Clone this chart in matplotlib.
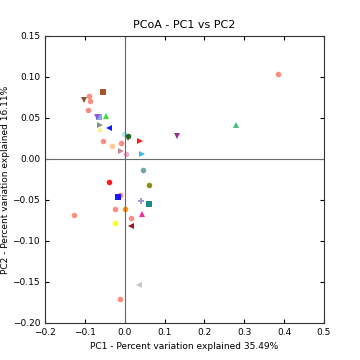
import matplotlib
matplotlib.use('Agg')
import matplotlib.pyplot as plt

# Coordenadas PCoA de cada muestra (PC1, PC2)
pc1 = [-0.055, -0.090, -0.102, -0.087, -0.092, -0.064, -0.070, -0.047,
       -0.061, -0.062, -0.039, -0.002, 0.008, 0.008, 0.038, 0.132,
       -0.055, -0.033, -0.010, -0.009, 0.002, 0.043,
       0.045, -0.040, 0.062, -0.013, -0.018, 0.040, 0.060, -0.025,
       0.001, 0.043, -0.126, 0.015,
       -0.024, 0.016, 0.037, -0.013,
       0.384, 0.279]
pc2 = [0.082, 0.077, 0.072, 0.071, 0.060, 0.051, 0.051, 0.053,
       0.042, 0.037, 0.038, 0.030, 0.028, 0.025, 0.022, 0.028,
       0.022, 0.016, 0.020, 0.010, 0.0065, 0.006,
       -0.013, -0.028, -0.032, -0.044, -0.046, -0.051, -0.055, -0.061,
       -0.061, -0.067, -0.068, -0.072,
       -0.078, -0.082, -0.154, -0.171,
       0.104, 0.042]
colores = ['#a0410d', 'salmon', '#7f3f1f', 'salmon', 'salmon', '#7b9fe0', '#8a4fd8', '#22dd22',
           'gray', '#f5f08a', 'blue', '#a6ecf0', 'darkgreen', '#2f5f1f', 'red', '#8b1a89',
           'salmon', '#ffc48a', 'salmon', '#c08090', '#f0a0c8', '#1eb0ff',
           'cadetblue', 'red', 'olive', 'salmon', 'blue', '#a08cc8', 'teal', 'salmon',
           'darkorange', 'deeppink', 'salmon', 'salmon',
           'yellow', 'darkred', 'silver', 'salmon',
           'salmon', 'mediumseagreen']
marcadores = ['s', 'o', 'v', 'o', 'o', 's', 'v', '^',
              '>', '^', '<', 'o', 'o', 'v', '>', 'v',
              'o', 'o', 'o', '>', 'o', '>',
              'o', 'o', 'o', 'o', 's', 'P', 's', 'o',
              'o', '^', 'o', 'o',
              'o', '<', '<', 'o',
              'o', '^']

fig = plt.figure(figsize=(3.6, 3.6), dpi=100)
ax = fig.add_axes([0.125, 0.103, 0.775, 0.797])

for x, y, c, m in zip(pc1, pc2, colores, marcadores):
    ax.plot(x, y, marker=m, color=c, markersize=4, linestyle='none',
            markeredgewidth=0, alpha=0.9)

ax.axhline(0, color='dimgray', linewidth=0.8)
ax.axvline(0, color='dimgray', linewidth=0.8)

ax.set_xlim(-0.2, 0.5)
ax.set_ylim(-0.2, 0.15)
ax.set_xticks([-0.2, -0.1, 0.0, 0.1, 0.2, 0.3, 0.4, 0.5])
ax.set_yticks([-0.20, -0.15, -0.10, -0.05, 0.00, 0.05, 0.10, 0.15])
ax.set_yticklabels(['\u22120.20', '\u22120.15', '\u22120.10', '\u22120.05', '0.00', '0.05', '0.10', '0.15'])
ax.tick_params(direction='in', top=True, right=True, labelsize=6.5, length=3)
for s in ax.spines.values():
    s.set_color('#333333')

ax.set_title('PCoA - PC1 vs PC2', fontsize=8)
ax.set_xlabel('PC1 - Percent variation explained 35.49%', fontsize=6.5)
ax.set_ylabel('PC2 - Percent variation explained 16.11%', fontsize=6.5, labelpad=2)

fig.savefig('out.png', dpi=100)
